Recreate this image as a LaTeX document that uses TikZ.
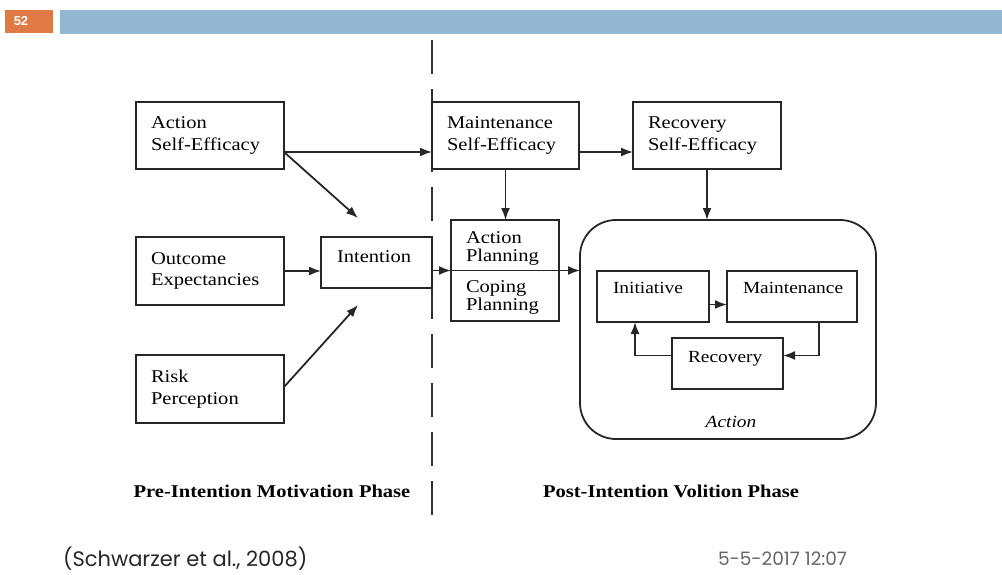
\documentclass[tikz,border=0pt]{standalone}
\usepackage{fontspec}
\setmainfont{Liberation Serif}[FakeStretch=1.14]
\newfontfamily\citefont{Poppins}
\newfontfamily\numfont{Liberation Sans}
\usetikzlibrary{arrows.meta,calc}
\definecolor{hdrorange}{HTML}{E07A45}
\definecolor{hdrblue}{HTML}{93B6D1}
\newcommand\boxfont{\fontsize{18}{21.5}\selectfont}
\newcommand\innerfont{\fontsize{17}{20}\selectfont}
\newcommand\phasefont{\fontsize{18}{21}\selectfont\bfseries}
\begin{document}
\begin{tikzpicture}[x=1pt,y=-1pt,
  every node/.style={inner sep=0pt, outer sep=0pt},
  box/.style={draw=black!85, line width=1.8pt, anchor=north west, inner xsep=15pt, inner ysep=0pt, align=left, font=\boxfont},
  conn/.style={line width=1.8pt, draw=black!85, -{Latex[length=12pt,width=9pt]}},
  lbl/.style={anchor=base west, font=\boxfont},
  ilbl/.style={anchor=base west, font=\innerfont}
]
\useasboundingbox (0,0) rectangle (1002,574);
% header
\fill[hdrorange] (5,10) rectangle (53,33);
\fill[hdrblue] (60,10) rectangle (1002,34);
\node[font=\numfont\bfseries\fontsize{13}{15}\selectfont, text=white] (num) at (21,21.5) {52};
% dashed divider
\coordinate (dtop) at (432,40);
\coordinate (dbot) at (432,517);
\draw[line width=1.8pt, draw=black!80, dash pattern=on 34pt off 15pt] (dtop) -- (dbot);
% left boxes
\node[box, text width=118pt, minimum height=67pt] (ase) at (136,102) {Action\\Self-Efficacy};
\node[box, text width=118pt, minimum height=68pt] (oe) at (136,237) {Outcome\\Expectancies};
\node[box, text width=118pt, minimum height=68pt] (risk) at (136,355) {Risk\\Perception};
\node[box, minimum width=111pt, minimum height=51pt] (int) at (321,237) {};
\node[lbl] (intT) at (337,262) {Intention};
% right top boxes
\node[box, text width=117pt, minimum height=67pt] (mse) at (432,102) {Maintenance\\Self-Efficacy};
\node[box, text width=118pt, minimum height=67pt] (rse) at (633,102) {Recovery\\Self-Efficacy};
% planning box
\node[box, minimum width=108pt, minimum height=101pt] (plan) at (451,220) {};
\node[lbl] (apT) at (466,243) {Action};
\node[lbl] (apT2) at (466,261) {Planning};
\node[lbl] (cpT) at (466,292) {Coping};
\node[lbl] (cpT2) at (466,310) {Planning};
% action box
\node[draw=black!85, line width=1.8pt, rounded corners=36pt, anchor=north west, minimum width=296pt, minimum height=219pt] (act) at (580,220) {};
\node[anchor=base, font=\innerfont\itshape] (actT) at (731,427) {Action};
\node[box, minimum width=112pt, minimum height=51pt] (ini) at (597,271) {};
\node[ilbl] (iniT) at (613,293) {Initiative};
\node[box, minimum width=130pt, minimum height=51pt] (mnt) at (727,271) {};
\node[ilbl] (mntT) at (743,293) {Maintenance};
\node[box, minimum width=111pt, minimum height=51pt] (rec) at (672,338) {};
\node[ilbl] (recT) at (688,362) {Recovery};
% connectors
\coordinate (t1) at (358,218);
\coordinate (t2) at (358,305);
\draw[conn] ([yshift=17pt]ase.south east) -- ([yshift=17pt]mse.south west);
\draw[conn] ([yshift=17pt]ase.south east) -- (t1);
\draw[conn] (oe.east) -- (oe.east -| int.west);
\draw[conn] ([yshift=2pt]risk.east) -- (t2);
\draw[conn] (int.east |- plan.center) -- (plan.west);
\draw[conn] (plan.west) -- (plan.west -| act.west);
\draw[conn] (mse.south) -- (mse.south |- plan.north);
\draw[conn] ([yshift=17pt]mse.south east) -- ([yshift=17pt]rse.south west);
\draw[conn] (rse.south) -- (rse.south |- act.north);
\draw[conn] ([yshift=-8pt]ini.east) -- ([yshift=-8pt]ini.east -| mnt.west);
\draw[conn] ([xshift=-38pt]mnt.south east) |- ([yshift=8pt]rec.east);
\draw[conn] ([yshift=8pt]rec.west) -| ([xshift=38pt]ini.south west);
% phase labels
\node[anchor=base, font=\phasefont] (p1) at (272,497) {Pre-Intention Motivation Phase};
\node[anchor=base, font=\phasefont] (p2) at (671,497) {Post-Intention Volition Phase};
% footer
\node[anchor=west, font=\citefont\fontsize{21}{24}\selectfont, text=black!85] (cite) at (63,559) {(Schwarzer et al., 2008)};
\node[anchor=west, font=\citefont\fontsize{18.5}{21}\selectfont, text=black!60] (date) at (718,559) {5-5-2017 12:07};
\end{tikzpicture}
\end{document}
